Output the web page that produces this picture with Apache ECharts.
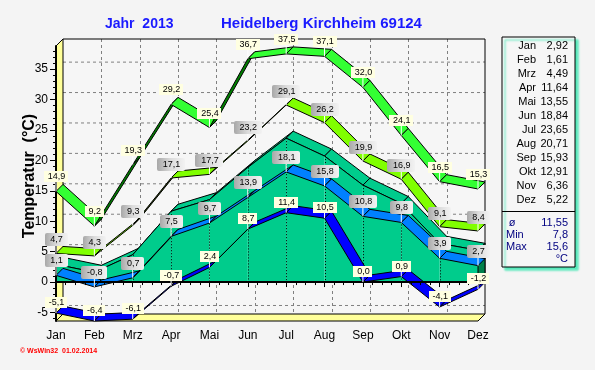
<!DOCTYPE html>
<html><head><meta charset="utf-8">
<script src="https://cdn.jsdelivr.net/npm/echarts@6/dist/echarts.min.js"></script>
<style>html,body{margin:0;padding:0;background:#F4F4F4}#c{width:595px;height:370px}</style>
</head><body><div id="c"></div>
<script>
// ---- data ----
const months = ['Jan','Feb','Mrz','Apr','Mai','Jun','Jul','Aug','Sep','Okt','Nov','Dez'];
const absMax = [14.9, 9.2, 19.3, 29.2, 25.4, 36.7, 37.5, 37.1, 32.0, 24.1, 16.5, 15.3];
const meanMax = [4.7, 4.3, 9.3, 17.1, 17.7, 23.2, 29.1, 26.2, 19.9, 16.9, 9.1, 8.4];
const monthMean = [2.92, 1.61, 4.49, 11.64, 13.55, 18.84, 23.65, 20.71, 15.93, 12.91, 6.36, 5.22];
const meanMin = [1.1, -0.8, 0.7, 7.5, 9.7, 13.9, 18.1, 15.8, 10.8, 9.8, 3.9, 2.7];
const absMin = [-5.1, -6.4, -6.1, -0.7, 2.4, 8.7, 11.4, 10.5, 0.0, 0.9, -4.1, -1.2];
const summaryLabels = ['ø', 'Min', 'Max'];
const summaryValues = [11.55, 7.8, 15.6];
const yTicks = [-5, 0, 5, 10, 15, 20, 25, 30, 35];

// ---- style ----
const DX = 7, DY = -7;
const FONT = '"Liberation Sans", Arial, sans-serif';
const Y_MIN = -6.4, Y_MAX = 38.8;
const minorY = [];
for (let v = -6; v <= 38; v++) minorY.push(v);

function fmt(v, d) { return v.toFixed(d).replace('.', ','); }
function textW(s) {
  let w = 0;
  for (const ch of s) w += (ch === ',' ? 2.5 : ch === '-' ? 3.0 : 5.0);
  return w;
}

function ribbon(values, front, back, z) {
  return {
    type: 'custom', z: z, silent: true,
    data: values.slice(0, -1).map((v, i) => [i, v, values[i + 1]]),
    renderItem(params, api) {
      const i = api.value(0);
      const p0 = api.coord([i, api.value(1)]);
      const p1 = api.coord([i + 1, api.value(2)]);
      const cross = (p1[0] - p0[0]) * DY - (p1[1] - p0[1]) * DX;
      return {
        type: 'polygon',
        shape: { points: [p0, p1, [p1[0] + DX, p1[1] + DY], [p0[0] + DX, p0[1] + DY]] },
        style: { fill: cross <= 0 ? front : back, stroke: '#000', lineWidth: 1 }
      };
    }
  };
}

function labels(values, yellow, gap) {
  const grad = new echarts.graphic.LinearGradient(0, 0, 1, 0, [
    { offset: 0, color: '#A8A8A8' }, { offset: 0.5, color: '#DCDCDC' }, { offset: 1, color: '#F2F2F2' }]);
  return {
    type: 'custom', z: 40, silent: true,
    data: values.map((v, i) => [i, v]),
    renderItem(params, api) {
      const v = api.value(1);
      const p = api.coord([api.value(0), v]);
      const txt = fmt(v, 1);
      const w = Math.round(textW(txt) + (yellow ? 6 : 10));
      const h = yellow ? 11 : 13;
      const bx = Math.round(p[0] - w / 2), by = Math.round(p[1] - gap - h);
      return {
        type: 'group', children: [
          { type: 'line', shape: { x1: p[0], y1: by + h, x2: p[0], y2: p[1] }, style: { stroke: '#fff', lineWidth: 1 } },
          { type: 'rect', shape: { x: bx, y: by, width: w, height: h, r: yellow ? 0 : 2 },
            style: { fill: yellow ? '#FFFFE1' : grad } },
          { type: 'text', style: { text: txt, x: p[0] + 0.5, y: by + h / 2 + 0.5, align: 'center', verticalAlign: 'middle',
            font: '9px ' + FONT, fill: '#000' } }
        ]
      };
    }
  };
}

const frame = {
  type: 'custom', z: 1, silent: true, data: [[0, 0]],
  renderItem(params, api) {
    const cs = params.coordSys;
    const x0 = cs.x, y0 = cs.y, w = cs.width, h = cs.height;
    const ch = [];
    ch.push({ type: 'rect', shape: { x: x0 + DX, y: y0 + DY, width: w, height: h }, style: { fill: '#F6F6F6' } });
    yTicks.forEach(v => {
      const y = api.coord([0, v])[1] + DY;
      ch.push({ type: 'line', shape: { x1: x0 + DX, y1: y, x2: x0 + w + DX, y2: y },
        style: { stroke: '#808080', lineWidth: 1, lineDash: [3, 3] } });
    });
    months.forEach((m, i) => {
      if (i === 0 || i === months.length - 1) return;
      const x = Math.round(api.coord([i, 0])[0] + DX) + 0.5;
      ch.push({ type: 'line', shape: { x1: x, y1: y0 + DY, x2: x, y2: y0 + h + DY },
        style: { stroke: '#808080', lineWidth: 1, lineDash: [3, 3] } });
    });
    ch.push({ type: 'polyline', shape: { points: [[x0 + DX, y0 + DY], [x0 + w + DX, y0 + DY], [x0 + w + DX, y0 + h + DY], [x0 + w, y0 + h]] },
      style: { stroke: '#000', lineWidth: 1, fill: null } });
    ch.push({ type: 'polygon', shape: { points: [[x0, y0], [x0 + DX, y0 + DY], [x0 + DX, y0 + h + DY], [x0, y0 + h]] },
      style: { fill: '#FFFF99', stroke: '#000', lineWidth: 1 } });
    ch.push({ type: 'polygon', shape: { points: [[x0, y0 + h], [x0 + DX, y0 + h + DY], [x0 + w + DX, y0 + h + DY], [x0 + w, y0 + h]] },
      style: { fill: '#FFFF99', stroke: '#000', lineWidth: 1 } });
    return { type: 'group', children: ch };
  }
};

const TEAL = '#00CC8C';
const area = {
  type: 'custom', z: 5, silent: true,
  data: monthMean.slice(0, -1).map((v, i) => [i, v, monthMean[i + 1]]),
  renderItem(params, api) {
    const i = api.value(0);
    const p0 = api.coord([i, api.value(1)]), p1 = api.coord([i + 1, api.value(2)]);
    const b0 = api.coord([i, 0]), b1 = api.coord([i + 1, 0]);
    const ch = [
      { type: 'polygon', shape: { points: [p0, p1, [p1[0] + DX, p1[1] + DY], [p0[0] + DX, p0[1] + DY]] },
        style: { fill: TEAL, stroke: '#000', lineWidth: 1 } },
      { type: 'polygon', shape: { points: [p0, p1, b1, b0] }, style: { fill: TEAL } },
      { type: 'line', shape: { x1: p0[0], y1: p0[1], x2: p1[0], y2: p1[1] }, style: { stroke: '#000', lineWidth: 1 } },
      { type: 'line', shape: { x1: Math.round(p0[0]) + 0.5, y1: p0[1], x2: Math.round(b0[0]) + 0.5, y2: b0[1] },
        style: { stroke: '#000', lineWidth: 1, lineDash: [1, 2] } }
    ];
    if (i === monthMean.length - 2) {
      ch.push({ type: 'polygon', shape: { points: [p1, [p1[0] + DX, p1[1] + DY], [b1[0] + DX, b1[1] + DY], b1] },
        style: { fill: '#00804A', stroke: '#000', lineWidth: 1 } });
    }
    if (i === 0) {
      const e = api.coord([months.length - 1, 0]);
      ch.push({ type: 'line', shape: { x1: b0[0], y1: Math.round(b0[1]) + 0.5, x2: e[0], y2: Math.round(e[1]) + 0.5 },
        style: { stroke: '#000', lineWidth: 1, lineDash: [1, 2] } });
    }
    return { type: 'group', children: ch };
  }
};

const chart = echarts.init(document.getElementById('c'), null, { renderer: 'canvas' });
const legendRows = [];
months.forEach((m, i) => {
  const y = 45.5 + 14.05 * i;
  legendRows.push({ type: 'text', x: 536, y: y, style: { text: m, align: 'right', verticalAlign: 'middle', font: '11px ' + FONT, fill: '#000' } });
  legendRows.push({ type: 'text', x: 568, y: y, style: { text: fmt(monthMean[i], 2), align: 'right', verticalAlign: 'middle', font: '11px ' + FONT, fill: '#000' } });
});
summaryLabels.forEach((s, i) => {
  const y = 223 + 12 * i;
  legendRows.push({ type: 'text', x: i === 0 ? 512 : 506, y: y, style: { text: s, align: i === 0 ? 'center' : 'left', verticalAlign: 'middle', font: '11px ' + FONT, fill: '#000080' } });
  legendRows.push({ type: 'text', x: 568, y: y, style: { text: fmt(summaryValues[i], i === 0 ? 2 : 1), align: 'right', verticalAlign: 'middle', font: '11px ' + FONT, fill: '#000080' } });
});
legendRows.push({ type: 'text', x: 568, y: 259, style: { text: '°C', align: 'right', verticalAlign: 'middle', font: '11px ' + FONT, fill: '#000080' } });

chart.setOption({
  backgroundColor: '#F4F4F4',
  animation: false,
  grid: { left: 56, top: 46, width: 422, height: 275 },
  xAxis: {
    type: 'value', min: 0, max: months.length - 1, interval: 1, z: 10,
    axisLine: { lineStyle: { color: '#000', width: 2 } },
    axisTick: { length: 5, lineStyle: { color: '#000' } },
    minorTick: { show: true, splitNumber: 4, length: 3, lineStyle: { color: '#000' } },
    axisLabel: { formatter: v => months[v], color: '#000', fontSize: 12, fontFamily: FONT, margin: 9 },
    splitLine: { show: false }, minorSplitLine: { show: false }
  },
  yAxis: [{
    type: 'value', min: Y_MIN, max: Y_MAX, z: 10,
    axisLine: { show: true, lineStyle: { color: '#000', width: 2 } },
    axisTick: { show: true, length: 6, customValues: yTicks, lineStyle: { color: '#000' } },
    axisLabel: { customValues: yTicks, color: '#000', fontSize: 12, fontFamily: FONT, margin: 8 },
    splitLine: { show: false }
  }, {
    type: 'value', min: Y_MIN, max: Y_MAX, position: 'left', z: 10,
    axisLine: { show: false },
    axisTick: { show: true, length: 3, customValues: minorY, lineStyle: { color: '#000' } },
    axisLabel: { show: false },
    splitLine: { show: false }
  }],
  graphic: [
    { type: 'text', x: 105, y: 24, style: { text: 'Jahr  2013', align: 'left', verticalAlign: 'middle', font: 'bold 14px ' + FONT, fill: '#1A1AFF' } },
    { type: 'text', x: 221, y: 24, style: { text: 'Heidelberg Kirchheim 69124', align: 'left', verticalAlign: 'middle', font: 'bold 15px ' + FONT, fill: '#1A1AFF' } },
    { type: 'text', x: 30, y: 176, rotation: Math.PI / 2, style: { text: 'Temperatur  (°C)', align: 'center', verticalAlign: 'middle', font: 'bold 16px ' + FONT, fill: '#000' } },
    { type: 'text', x: 20, y: 351, style: { text: '© WsWin32  01.02.2014', align: 'left', verticalAlign: 'middle', font: 'bold 7px ' + FONT, fill: '#FF0000' } },
    { type: 'rect', shape: { x: 502, y: 37, width: 73, height: 230 },
      style: { fill: '#F6F6F6', stroke: '#000', lineWidth: 1, shadowColor: '#50E8B8', shadowOffsetX: 3, shadowOffsetY: 3, shadowBlur: 2 } },
    { type: 'line', shape: { x1: 502, y1: 211.5, x2: 575, y2: 211.5 }, style: { stroke: '#000', lineWidth: 1 } }
  ].concat(legendRows),
  series: [
    frame,
    area,
    ribbon(meanMax, '#80FF00', '#305000', 6),
    ribbon(absMax, '#33FF33', '#008000', 7),
    ribbon(meanMin, '#0080FF', '#003080', 8),
    ribbon(absMin, '#0000FF', '#000080', 9),
    labels(absMax, true, 9),
    labels(meanMax, false, 7),
    labels(meanMin, false, 8),
    labels(absMin, true, 5)
  ]
});
</script>
</body></html>
